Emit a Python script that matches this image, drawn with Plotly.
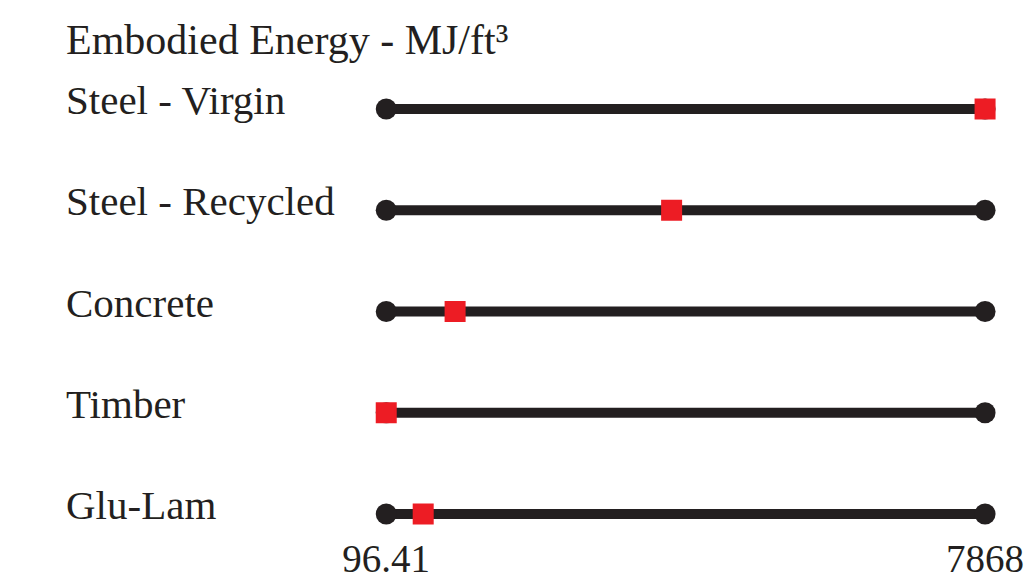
import plotly.graph_objects as go

title = "Embodied Energy - MJ/ft³"
materials = ["Steel - Virgin", "Steel - Recycled", "Concrete", "Timber", "Glu-Lam"]
values = [7868, 3800, 990, 96.41, 576]
x_min = 96.41
x_max = 7868
tick_labels = ["96.41", "7868"]

BLACK = "#231f20"
RED = "#ed1c24"
FONT = "Liberation Serif"
FS = 41

W, H = 1024, 580
# pixel anchors for scale
px_min, px_max = 387, 987
scale = (x_max - x_min) / (px_max - px_min)
xr0 = x_min - px_min * scale
xr1 = xr0 + W * scale

mb = 50
plot_h = H - mb
row_top, row_bot = 109, 514
per = (row_bot - row_top) / (len(materials) - 1)
yr_top = -row_top / per
yr_bot = yr_top + plot_h / per

fig = go.Figure()
for i, (m, v) in enumerate(zip(materials, values)):
    fig.add_trace(go.Scatter(
        x=[x_min, x_max], y=[i, i], mode="lines+markers",
        line=dict(color=BLACK, width=10),
        marker=dict(color=BLACK, size=21, symbol="circle"),
        hoverinfo="skip", showlegend=False))
    fig.add_trace(go.Scatter(
        x=[v], y=[i], mode="markers",
        marker=dict(color=RED, size=19, symbol="square",
                    line=dict(color=RED, width=2)),
        name=m, showlegend=False))
    fig.add_annotation(x=64 / W, xref="paper", y=i, yref="y", text=m,
                       showarrow=False, xanchor="left", yanchor="middle",
                       yshift=9, font=dict(family=FONT, size=FS, color=BLACK))

fig.add_annotation(x=64 / W, xref="paper", y=yr_top + 40 / per, yref="y",
                   text=title, showarrow=False, xanchor="left", yanchor="middle",
                   font=dict(family=FONT, size=FS + 1, color=BLACK))

fig.update_layout(
    width=W, height=H,
    margin=dict(l=0, r=0, t=0, b=mb),
    paper_bgcolor="white", plot_bgcolor="white",
    xaxis=dict(range=[xr0, xr1], showgrid=False, zeroline=False, showline=False,
               tickvals=[x_min, x_max], ticktext=tick_labels, ticks="",
               ticklabelstandoff=2, ticklabeloverflow="allow",
               tickfont=dict(family=FONT, size=39, color=BLACK)),
    yaxis=dict(range=[yr_bot, yr_top], showgrid=False, zeroline=False,
               showline=False, showticklabels=False),
)

fig.write_html("out.html", config={"displayModeBar": False},
               post_script="document.body.style.margin='0px';")
